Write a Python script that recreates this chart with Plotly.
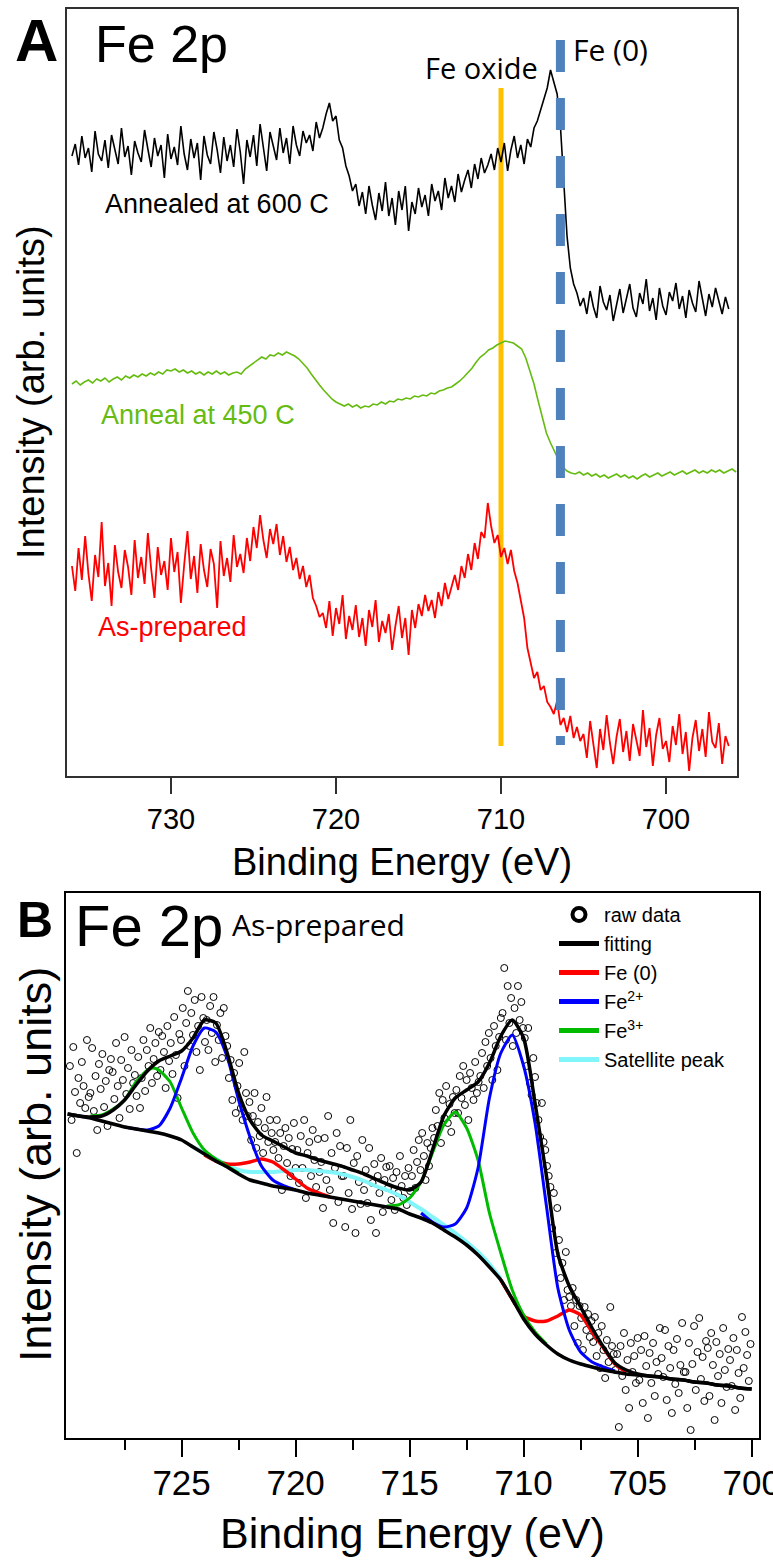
import numpy as np
import plotly.graph_objects as go

W, H = 773, 1560

# ---------------- Panel A : Fe 2p after different treatments ----------------
# binding-energy grids of the three scans (eV)
be_600 = np.round(np.arange(736.0, 696.1, -0.2), 1)
be_asprep = np.round(np.arange(736.0, 696.1, -0.2), 1)
be_450 = np.round(np.arange(736.0, 695.7, -0.25), 2)

# Annealed at 600 C (offset intensity, arb. units)
int_600 = [
    620, 632, 611, 640, 618, 628, 604, 645, 622, 615, 636,
    608, 641, 625, 612, 648, 619, 630, 601, 635, 623,
    614, 646, 627, 609, 638, 620, 631, 598, 642, 617,
    629, 611, 650, 622, 606, 637, 618, 633, 596, 640,
    621, 612, 644, 626, 603, 639, 615, 631, 609, 647,
    624, 592, 636, 619, 641, 610, 652, 627, 605, 644,
    629, 616, 648, 623, 638, 612, 650, 631, 620, 645,
    633, 641, 625, 654, 638,
    648, 662, 673, 655, 660, 636, 628, 610, 600, 585,
    592, 570, 584, 562, 590, 571, 556, 583, 565, 594,
    560, 578, 551, 585, 566, 590, 545, 574, 562, 588,
    569, 581, 560, 592, 575, 585, 566, 598, 578, 590,
    574, 602, 584, 596, 606, 588, 612, 597, 618, 603,
    611, 622, 606, 628, 614, 633, 605, 626, 640, 618,
    631, 612, 637, 629, 648, 655, 666, 676, 688, 706,
    695, 682, 650, 590, 540, 508, 492, 483, 470,
    478, 462, 485, 469, 458, 490, 474, 466, 481, 455,
    471, 487, 463, 476, 492, 468, 459, 483, 472, 497,
    465, 478, 456, 488, 470, 461, 484, 475, 493, 467,
    480, 458, 486, 473, 464, 495, 477, 460, 482, 469,
    488, 474, 462, 479, 467,
]

# Annealed at 450 C
int_450 = [
    392, 395, 391, 394, 396, 393, 397, 395, 398, 394,
    397, 399, 396, 400, 398, 401, 399, 402, 400, 403,
    401, 404, 402, 406, 405, 407, 404, 406, 403, 405,
    402, 404, 401, 404, 402, 405, 402, 404, 401, 403,
    404, 402, 407, 410, 413, 416, 419, 417, 421, 420,
    423, 421, 424, 422, 420, 417, 413, 408, 402, 396,
    391, 386, 381, 377, 374, 372, 370, 372, 369, 371,
    368, 370, 369, 372, 371, 374, 372, 375, 374, 377,
    376, 378, 377, 380, 379, 381, 380, 383, 382, 385,
    386, 388, 389, 392, 395, 399, 403, 408, 414, 419,
    422, 426, 428, 431, 433, 435, 434, 433, 430, 427,
    418, 406, 392, 375, 358, 343, 333, 324, 316, 309,
    305, 303, 302, 304, 301, 303, 300, 302, 299, 301,
    298, 300, 302, 299, 301, 298, 300, 297, 300, 302,
    299, 301, 303, 300, 302, 304, 301, 303, 305, 302,
    304, 306, 303, 305, 303, 306, 304, 306, 303, 305,
    307, 304,
]

# As-prepared
int_asprep = [
    210, 185, 228, 196, 240, 202, 175, 221, 199, 254, 190,
    213, 170, 231, 204, 188, 226, 209, 181, 236, 198,
    219, 192, 243, 207, 178, 229, 201, 215, 186, 238,
    204, 224, 173, 211, 245, 197, 220, 183, 232, 206,
    189, 227, 212, 168, 235, 200, 218, 194, 241, 209,
    222, 203, 238, 215, 249, 228, 261, 236, 218, 247,
    232, 252, 221, 240, 214, 229, 206, 218, 197, 210,
    189, 201, 178, 170, 159,
    163, 148, 175, 140, 168, 152, 181, 137, 160, 146,
    171, 139, 158, 130, 166, 149, 176, 134, 155, 143,
    162, 126, 150, 170, 138, 158, 121, 166, 148, 172,
    160, 181, 165, 176, 158, 184, 170, 193, 177, 190,
    201, 186, 210, 198, 222, 206, 233, 217, 244, 238,
    273, 250, 233, 241, 219, 228, 212, 226, 205, 193,
    176, 158, 128, 112, 98, 104, 86, 90, 74, 69,
    62, 75, 51, 58, 44, 60, 38, 49, 35,
    42, 18, 55, 30, 8, 47, 26, 61, 33, 12,
    39, 57, 24, 45, 15, 52, 36, 20, 66, 29,
    48, 10, 41, 58, 27, 35, 14, 50, 31, 62,
    22, 44, 5, 38, 56, 25, 47, 19, 64, 34,
    28, 53, 12, 40, 30,
]

fe_oxide_be = 710.0
fe_metal_be = 706.4
a_ticks = [730, 720, 710, 700]

# ---------------- Panel B : fitted Fe 2p of the as-prepared sample ----------------
# raw scan, 0.075 eV step from 729.9 eV down to 700.05 eV (399 points)
be_raw = np.round(np.linspace(729.9, 700.05, 399), 3)
int_raw = [
    372, 318, 391, 346, 285, 360, 335, 376, 352, 330, 398, 341,
    345, 390, 327, 362, 308, 374, 349, 384, 331, 357, 312, 368, 379,
    366, 339, 395, 352, 320, 378, 358, 401, 344, 370, 329, 388, 355, 363, 342,
    381, 330, 360, 398, 347, 388, 372, 410, 355, 379, 395, 362, 406,
    368, 402, 386, 350, 412, 377, 395, 364, 421, 383, 340, 404,
    398, 430, 372, 415, 447, 392, 425, 403, 438, 386, 412, 368, 441, 420, 396,
    418, 388, 432, 405, 441, 376, 413, 398, 425, 380, 430, 402, 392,
    360, 378, 338, 365, 325, 352, 375, 330, 318, 386, 345, 322,
    336, 298, 322, 345, 290, 316, 302, 330, 285, 310, 341, 296, 318, 305, 288,
    296, 318, 280, 305, 248, 292, 310, 275, 300, 262, 289, 315, 270,
    288, 255, 302, 270, 318, 240, 285, 296, 262, 308, 278, 251, 299, 266,
    276, 230, 300, 258, 322, 248, 285, 215, 270, 305, 236, 292, 262,
    262, 211, 290, 245, 318, 229, 275, 205, 282, 256, 234, 298, 248,
    268, 235, 290, 218, 255, 274, 205, 262, 245, 280, 226, 258, 271,
    250, 272, 238, 260, 228, 266, 245, 282, 252, 240, 262, 233, 270, 247,
    262, 288, 250, 276, 298, 268, 305, 282, 258, 295, 272, 290, 310,
    300, 328, 312, 345, 295, 338, 320, 352, 315, 334, 306, 341, 325,
    348, 325, 362, 340, 372, 333, 358, 318, 365, 350, 338, 376, 345, 356,
    362, 385, 350, 396, 372, 405, 380, 358, 412, 392, 368, 401, 420,
    425, 470, 398, 452, 415, 440, 392, 430, 405, 452, 418, 436, 410,
    400, 372, 410, 355, 343, 380, 361, 335, 318, 301, 335, 296, 288, 272,
    262, 251, 210, 245, 185, 230, 198, 160, 175, 138, 186, 148, 141,
    132, 150, 112, 138, 95, 132, 120, 88, 131, 108, 124, 101, 117,
    96, 121, 82, 105, 70, 112, 88, 60, 98, 76, 131, 92, 84, 68,
    84, 11, 92, 62, 105, 48, 78, 30, 95, 66, 82, 55, 100,
    58, 88, 35, 102, 72, 20, 85, 55, 95, 42, 76, 64, 110,
    80, 61, 108, 38, 92, 70, 25, 88, 54, 99, 45, 73, 115, 66,
    66, 30, 95, 8, 74, 112, 48, 86, 120, 59, 81, 37, 97,
    90, 42, 105, 73, 18, 96, 62, 84, 35, 110, 68, 51, 89,
    78, 52, 100, 28, 88, 65, 40, 121, 70, 106, 83, 57, 94,
]

be_fit = np.round(np.arange(730.0, 699.9, -0.5), 1)
int_envelope = [
    324, 322, 321, 322, 328, 338, 353, 367, 377, 382,
    387, 400, 418, 415, 385, 345, 318, 303, 297, 291,
    285, 282, 278, 275, 272, 268, 264, 259, 254, 250,
    248, 256, 288, 322, 340, 348, 356, 375, 402, 418,
    400, 335, 262, 184, 152, 131, 110, 91, 75, 68,
    64, 62, 61, 59, 58, 56, 55, 53, 52, 50, 49,
]
int_background = [
    324, 322, 320, 317, 314, 311, 309, 307, 305, 302,
    298, 291, 284, 277, 271, 264, 258, 255, 252, 250,
    248, 245, 243, 241, 239, 237, 235, 233, 231, 229,
    224, 220, 215, 208, 201, 193, 183, 171, 158, 139,
    119, 104, 93, 84, 78, 74, 71, 68, 66, 64,
    63, 62, 61, 59, 58, 56, 55, 53, 52, 50, 49,
]

be_fe0 = [724.0, 723.5, 723.0, 722.5, 722.0, 721.5, 721.0, 720.5, 720.0, 719.5, 719.0, 718.5,
          None,
          711.0, 710.5, 710.0, 709.5, 709.0, 708.5, 708.0, 707.5, 707.0, 706.5, 706.0, 705.5]
int_fe0 = [283, 277, 274, 274, 276, 279, 276, 268, 259, 250, 245, 241,
           None,
           158, 139, 122, 117, 117, 122, 128, 123, 106, 90, 74, 66]

be_fe2 = [727.5, 727.0, 726.5, 726.0, 725.5, 725.0, 724.5, 724.0, 723.5, 723.0, 722.5, 722.0,
          721.5, 721.0, 720.5, 720.0,
          None,
          714.5, 714.0, 713.5, 713.0, 712.5, 712.0, 711.5, 711.0, 710.5, 710.0, 709.5, 709.0,
          708.5, 708.0, 707.5, 707.0, 706.5, 706.0]
int_fe2 = [311, 309, 308, 312, 330, 360, 392, 410, 406, 381, 338, 301,
           272, 258, 252, 248,
           None,
           225, 216, 211, 214, 230, 270, 340, 385, 403, 372, 315, 232,
           150, 108, 86, 76, 71, 67]

be_fe3 = [729.0, 728.5, 728.0, 727.5, 727.0, 726.5, 726.25, 726.0, 725.5, 725.0, 724.5, 724.0,
          723.5, 723.0, 722.5,
          None,
          716.0, 715.5, 715.0, 714.5, 714.0, 713.5, 713.0, 712.5, 712.0, 711.5, 711.0, 710.5,
          710.0, 709.5, 709.0]
int_fe3 = [322, 323, 329, 338, 356, 368, 370, 368, 356, 330, 305, 288,
           279, 272, 265,
           None,
           232, 233, 240, 256, 285, 313, 326, 310, 278, 225, 185, 148,
           123, 106, 94]

be_sat = [724.5, 724.0, 723.5, 723.0, 722.5, 722.0, 721.5, 721.0, 720.5, 720.0, 719.5, 719.0,
          718.5, 718.0, 717.5, 717.0, 716.5, 716.0, 715.5, 715.0, 714.5, 714.0, 713.5, 713.0,
          712.5, 712.0, 711.5, 711.0]
int_sat = [291, 285, 279, 273, 268, 266, 266, 266, 267, 268, 268, 267,
           266, 264, 261, 257, 252, 248, 243, 236, 229, 221, 213, 205,
           196, 186, 174, 159]

b_ticks = [725, 720, 715, 710, 705, 700]
b_minor = [727.5, 722.5, 717.5, 712.5, 707.5, 702.5]

# ---------------- figure ----------------
ARIAL = "Liberation Sans"
CALIBRI = "Open Sans"

C_SAT, C_FE0, C_FE2, C_FE3 = "#80f6fa", "#ff0000", "#0000ff", "#00bb00"


def paper(px, py):
    return px / W, 1 - py / H


fig = go.Figure()

# panel A spectra
fig.add_trace(go.Scatter(x=be_600, y=int_600, mode="lines", line=dict(color="black", width=1.6),
                         xaxis="x", yaxis="y", showlegend=False, hoverinfo="skip"))
fig.add_trace(go.Scatter(x=be_450, y=int_450, mode="lines", line=dict(color="#66bb11", width=1.6),
                         xaxis="x", yaxis="y", showlegend=False, hoverinfo="skip"))
fig.add_trace(go.Scatter(x=be_asprep, y=int_asprep, mode="lines", line=dict(color="#ff0000", width=1.8),
                         xaxis="x", yaxis="y", showlegend=False, hoverinfo="skip"))

# panel B raw data and fitted components
spl = dict(shape="spline", smoothing=0.6)
fig.add_trace(go.Scatter(x=be_raw, y=int_raw, mode="markers", showlegend=False,
                         marker=dict(symbol="circle-open", size=7, color="black", line=dict(width=1)),
                         xaxis="x2", yaxis="y2"))
fig.add_trace(go.Scatter(x=be_sat, y=int_sat, mode="lines", showlegend=False,
                         line=dict(color=C_SAT, width=4, **spl), xaxis="x2", yaxis="y2"))
fig.add_trace(go.Scatter(x=be_fe0, y=int_fe0, mode="lines", showlegend=False,
                         line=dict(color=C_FE0, width=3.5, **spl), xaxis="x2", yaxis="y2"))
fig.add_trace(go.Scatter(x=be_fe3, y=int_fe3, mode="lines", showlegend=False,
                         line=dict(color=C_FE3, width=3, **spl), xaxis="x2", yaxis="y2"))
fig.add_trace(go.Scatter(x=be_fe2, y=int_fe2, mode="lines", showlegend=False,
                         line=dict(color=C_FE2, width=3, **spl), xaxis="x2", yaxis="y2"))
fig.add_trace(go.Scatter(x=be_fit, y=int_background, mode="lines", showlegend=False,
                         line=dict(color="black", width=3.5, **spl), xaxis="x2", yaxis="y2"))
fig.add_trace(go.Scatter(x=be_fit, y=int_envelope, mode="lines", showlegend=False,
                         line=dict(color="black", width=3.5, **spl), xaxis="x2", yaxis="y2"))

# legend entries (drawn with heavier symbols than the plotted marks)
legend_items = [
    ("raw data", dict(mode="markers", marker=dict(symbol="circle-open", size=13, color="black",
                                                  line=dict(width=4)))),
    ("fitting", dict(mode="lines", line=dict(color="black", width=5))),
    ("Fe (0)", dict(mode="lines", line=dict(color=C_FE0, width=5))),
    ("Fe<sup>2+</sup>", dict(mode="lines", line=dict(color=C_FE2, width=5))),
    ("Fe<sup>3+</sup>", dict(mode="lines", line=dict(color=C_FE3, width=5))),
    ("Satellite peak", dict(mode="lines", line=dict(color=C_SAT, width=5))),
]
for rank, (name, style) in enumerate(legend_items, start=1):
    fig.add_trace(go.Scatter(x=[None], y=[None], name=name, legendrank=rank,
                             xaxis="x2", yaxis="y2", **style))

# reference positions in panel A
fig.add_shape(type="line", xref="x", yref="y", x0=fe_oxide_be, x1=fe_oxide_be, y0=30, y1=688,
              line=dict(color="#ffc000", width=5), layer="below")
fig.add_shape(type="line", xref="x", yref="y", x0=fe_metal_be, x1=fe_metal_be, y0=736, y1=31,
              line=dict(color="#4f81bd", width=9, dash="32px,26px"), layer="above")

frame_a = dict(showline=True, mirror=True, linecolor="#303030", linewidth=1.5,
               showgrid=False, zeroline=False, automargin=False)
frame_b = dict(showline=True, mirror=True, linecolor="black", linewidth=2,
               showgrid=False, zeroline=False, automargin=False)

fig.update_layout(
    width=W, height=H, margin=dict(l=0, r=0, t=0, b=0, autoexpand=False),
    paper_bgcolor="white", plot_bgcolor="white",
    xaxis=dict(domain=[67 / W, 737 / W], range=[736.3, 695.7], anchor="y",
               tickmode="array", tickvals=a_ticks, ticks="outside", ticklen=16, tickwidth=2,
               tickcolor="#303030", tickfont=dict(family=ARIAL, size=29, color="black"),
               ticklabelstandoff=0, **frame_a),
    yaxis=dict(domain=[1 - 776 / H, 1 - 9 / H], range=[0, 767], anchor="x",
               showticklabels=False, ticks="", **frame_a),
    xaxis2=dict(domain=[66 / W, 758.5 / W], range=[730.07, 699.7], anchor="y2",
                tickmode="array", tickvals=b_ticks, ticks="outside", ticklen=17, tickwidth=2,
                tickcolor="black", tickfont=dict(family=ARIAL, size=35, color="black"),
                minor=dict(tickmode="array", tickvals=b_minor,
                           ticks="outside", ticklen=10, tickwidth=2, tickcolor="black"),
                ticklabelstandoff=-4, ticklabeloverflow="allow", **frame_b),
    yaxis2=dict(domain=[1 - 1438 / H, 1 - 893 / H], range=[0, 545], anchor="x2",
                showticklabels=False, ticks="", **frame_b),
    legend=dict(x=554 / W, y=1 - 895 / H, xanchor="left", yanchor="top",
                font=dict(family=ARIAL, size=20, color="black"), bgcolor="rgba(0,0,0,0)",
                itemwidth=40, tracegroupgap=0),
    showlegend=True,
)


def label(text, px, py, size, family=ARIAL, color="black", xanchor="left", angle=0):
    x, y = paper(px, py)
    fig.add_annotation(text=text, x=x, y=y, xref="paper", yref="paper", showarrow=False,
                       xanchor=xanchor, yanchor="middle", textangle=angle,
                       font=dict(family=family, size=size, color=color))


# panel A labels
label("<b>A</b>", 36, 40, 60, xanchor="center")
label("Fe 2p", 93, 44, 52)
label("Fe oxide", 423, 68, 29, family=CALIBRI)
label("Fe (0)", 571, 50, 30, family=CALIBRI)
label("Annealed at 600 C", 103, 204, 27)
label("Anneal at 450 C", 99, 415, 27, color="#66bb11")
label("As-prepared", 96, 627, 27, color="#ff0000")
label("Intensity (arb. units)", 31, 392, 38, xanchor="center", angle=-90)
label("Binding Energy (eV)", 402, 862, 38, xanchor="center")

# panel B labels
label("<b>B</b>", 35, 920, 50, xanchor="center")
label("Fe 2p", 73, 925, 58)
label("As-prepared", 230, 924, 30, family=CALIBRI)
label("Intensity (arb. units)", 35, 1165, 45, xanchor="center", angle=-90)
label("Binding Energy (eV)", 412, 1533, 43, xanchor="center")

fig.write_html("out.html")
